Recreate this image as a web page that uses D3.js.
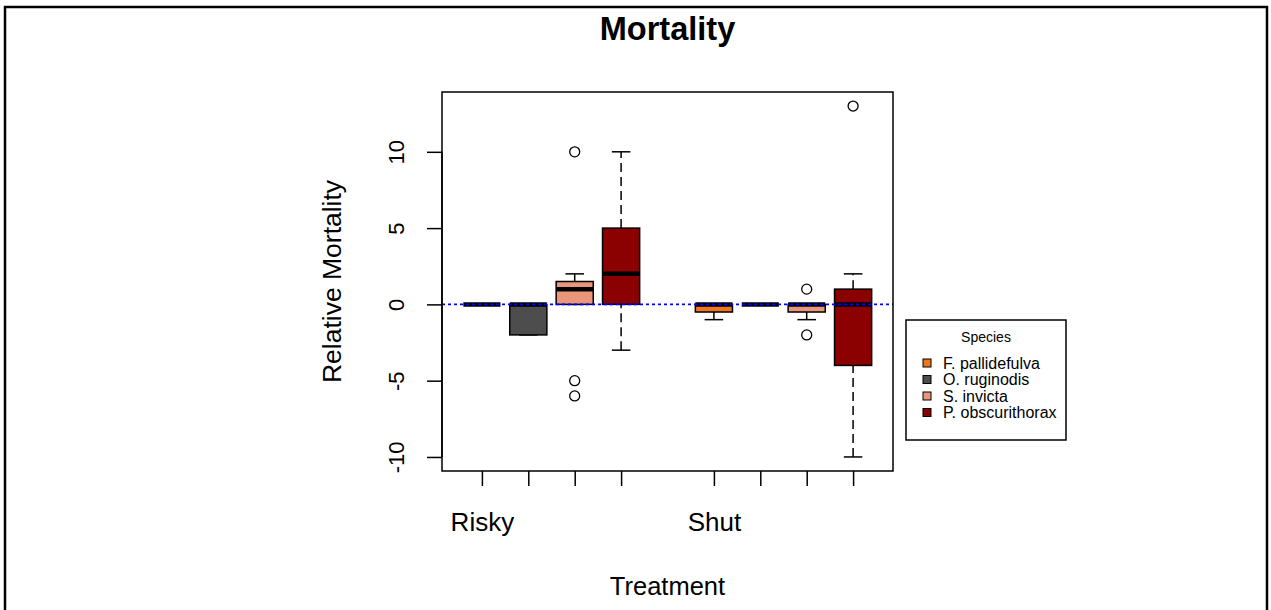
<!DOCTYPE html>
<html>
<head>
<meta charset="utf-8">
<script src="https://cdn.jsdelivr.net/npm/d3@7"></script>
<style>
  html, body { margin: 0; padding: 0; background: #fff; }
  svg { display: block; font-family: "Liberation Sans", Arial, sans-serif; }
</style>
</head>
<body>
<svg id="chart" width="1271" height="610"></svg>
<script>
// Box-plot summaries of relative mortality, one box per treatment x species
const treatments = ["Risky", "Shut"];
const species = ["F. pallidefulva", "O. ruginodis", "S. invicta", "P. obscurithorax"];
const speciesColors = ["#EE7621", "#4D4D4D", "#E9967A", "#8B0000"];
const boxPositions = [1, 2, 3, 4, 6, 7, 8, 9];
const boxSpecies = [0, 1, 2, 3, 0, 1, 2, 3];
const whiskerLow  = [0, -2, 0, -3, -1, 0, -1, -10];
const lowerQuart  = [0, -2, 0, 0, -0.5, 0, -0.5, -4];
const medians     = [0, 0, 1, 2, 0, 0, 0, 0];
const upperQuart  = [0, 0, 1.5, 5, 0, 0, 0, 1];
const whiskerHigh = [0, 0, 2, 10, 0, 0, 0, 2];
const outliers    = [[], [], [10, -5, -6], [], [], [], [1, -2], [13]];
const yTicks = [-10, -5, 0, 5, 10];
const treatmentTickPos = [1, 6];

const svg = d3.select("#chart");

// outer frame
svg.append("path")
  .attr("d", "M5,615 L5,7 L1267,7 L1267,615")
  .attr("fill", "none").attr("stroke", "#000").attr("stroke-width", 2.5);

const plot = { left: 442, right: 893, top: 92, bottom: 471 };

// R-style 4% padded ranges
const allVals = whiskerLow.concat(whiskerHigh, outliers.flat());
const yMin = d3.min(allVals), yMax = d3.max(allVals);
const yPad = (yMax - yMin) * 0.04;
const y = d3.scaleLinear().domain([yMin - yPad, yMax + yPad]).range([plot.bottom, plot.top]);
const xLo = 0.5, xHi = 9.5, xPad = (xHi - xLo) * 0.04;
const x = d3.scaleLinear().domain([xLo - xPad, xHi + xPad]).range([plot.left, plot.right]);

const boxHalf = x(1.4) - x(1);
const stapleHalf = boxHalf / 2;

const g = svg.append("g");

boxPositions.forEach((p, i) => {
  const cx = x(p);
  const col = speciesColors[boxSpecies[i]];
  // whiskers
  g.append("line").attr("x1", cx).attr("x2", cx)
    .attr("y1", y(whiskerLow[i])).attr("y2", y(lowerQuart[i]))
    .attr("stroke", "#000").attr("stroke-width", 1.5).attr("stroke-dasharray", "9,5");
  g.append("line").attr("x1", cx).attr("x2", cx)
    .attr("y1", y(upperQuart[i])).attr("y2", y(whiskerHigh[i]))
    .attr("stroke", "#000").attr("stroke-width", 1.5).attr("stroke-dasharray", "9,5");
  // staples
  [whiskerLow[i], whiskerHigh[i]].forEach(v => {
    g.append("line").attr("x1", cx - stapleHalf).attr("x2", cx + stapleHalf)
      .attr("y1", y(v)).attr("y2", y(v))
      .attr("stroke", "#000").attr("stroke-width", 1.5);
  });
  // box
  g.append("rect")
    .attr("x", cx - boxHalf).attr("width", 2 * boxHalf)
    .attr("y", y(upperQuart[i])).attr("height", Math.max(0, y(lowerQuart[i]) - y(upperQuart[i])))
    .attr("fill", col).attr("stroke", "#000").attr("stroke-width", 1.5);
  // median
  g.append("line").attr("x1", cx - boxHalf).attr("x2", cx + boxHalf)
    .attr("y1", y(medians[i])).attr("y2", y(medians[i]))
    .attr("stroke", "#000").attr("stroke-width", 4.5);
  // outliers
  outliers[i].forEach(v => {
    g.append("circle").attr("cx", cx).attr("cy", y(v)).attr("r", 5)
      .attr("fill", "none").attr("stroke", "#000").attr("stroke-width", 1.3);
  });
});

// reference line at zero
svg.append("line")
  .attr("x1", plot.left).attr("x2", plot.right)
  .attr("y1", y(0)).attr("y2", y(0))
  .attr("stroke", "#0000FF").attr("stroke-width", 1.6).attr("stroke-dasharray", "3,3");

// plot frame
svg.append("rect")
  .attr("x", plot.left).attr("y", plot.top)
  .attr("width", plot.right - plot.left).attr("height", plot.bottom - plot.top)
  .attr("fill", "none").attr("stroke", "#000").attr("stroke-width", 1.5);

// y axis
const yAxis = d3.axisLeft(y).tickValues(yTicks).tickSize(15).tickSizeOuter(0).tickFormat(d3.format("d"));
const ya = svg.append("g").attr("transform", `translate(${plot.left},0)`).call(yAxis);
ya.select(".domain").attr("stroke-width", 1.5).attr("d", `M-0,${y(-10)}V${y(10)}`);
ya.selectAll(".tick line").attr("stroke-width", 1.5);
ya.selectAll(".tick text").remove();
ya.selectAll(".tick").append("text")
  .attr("transform", "translate(-46,0) rotate(-90)")
  .attr("text-anchor", "middle").attr("dy", "0.36em")
  .attr("fill", "#000").attr("font-size", 22)
  .style("font-family", "Liberation Sans, Arial, sans-serif")
  .text(d => d);

// x axis
const xAxis = d3.axisBottom(x).tickValues(boxPositions).tickSize(15).tickSizeOuter(0)
  .tickFormat(d => { const k = treatmentTickPos.indexOf(d); return k >= 0 ? treatments[k] : ""; });
const xa = svg.append("g").attr("transform", `translate(0,${plot.bottom})`).call(xAxis);
xa.select(".domain").remove();
xa.selectAll(".tick line").attr("stroke-width", 1.5);
xa.selectAll(".tick text")
  .attr("y", 60).attr("dy", 0)
  .attr("fill", "#000").attr("font-size", 26)
  .style("font-family", "Liberation Sans, Arial, sans-serif");

// titles
svg.append("text").attr("x", (plot.left + plot.right) / 2).attr("y", 40)
  .attr("text-anchor", "middle").attr("font-size", 32.5).attr("font-weight", "bold")
  .text("Mortality");
svg.append("text").attr("x", (plot.left + plot.right) / 2).attr("y", 595)
  .attr("text-anchor", "middle").attr("font-size", 25.5)
  .text("Treatment");
svg.append("text")
  .attr("transform", `translate(341,${(plot.top + plot.bottom) / 2}) rotate(-90)`)
  .attr("text-anchor", "middle").attr("font-size", 26.5)
  .text("Relative Mortality");

// legend
const leg = svg.append("g").attr("transform", "translate(906,320)");
leg.append("rect").attr("width", 160).attr("height", 120)
  .attr("fill", "#fff").attr("stroke", "#000").attr("stroke-width", 1.5);
leg.append("text").attr("x", 80).attr("y", 22).attr("text-anchor", "middle")
  .attr("font-size", 14).text("Species");
species.forEach((s, i) => {
  const ry = 43 + i * 16.5;
  leg.append("rect").attr("x", 17).attr("y", ry - 4).attr("width", 8).attr("height", 8)
    .attr("fill", speciesColors[i]).attr("stroke", "#000").attr("stroke-width", 1);
  leg.append("text").attr("x", 37).attr("y", ry).attr("dy", "0.35em")
    .attr("font-size", 16).text(s);
});
</script>
</body>
</html>
